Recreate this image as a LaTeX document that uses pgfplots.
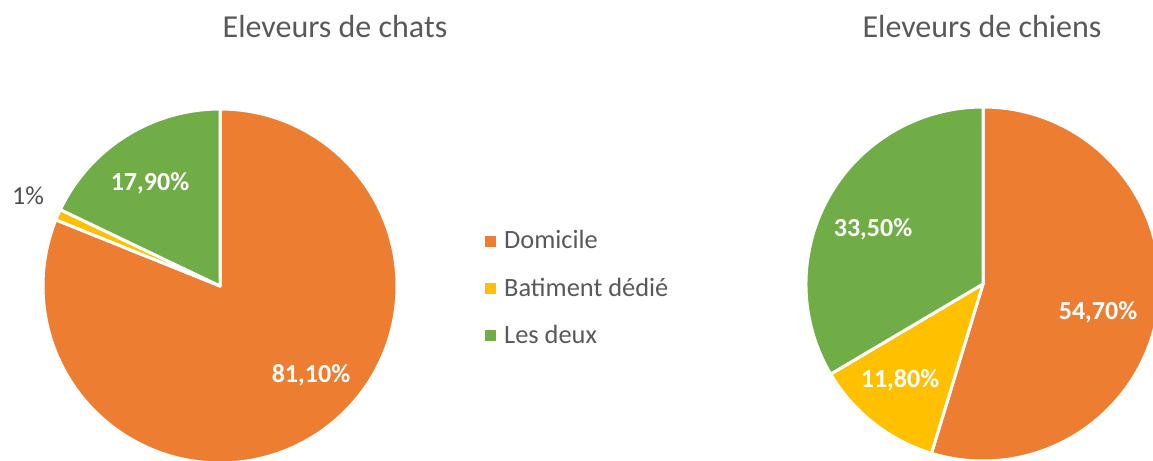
\documentclass[border=0pt]{standalone}
\usepackage{pgfplots}
\usepackage{pgfplotstable}
\usepackage{fontspec}
\setmainfont{Carlito}
\pgfplotsset{compat=1.18}

\definecolor{dom}{HTML}{ED7D31}
\definecolor{bat}{HTML}{FFC000}
\definecolor{deux}{HTML}{70AD47}
\definecolor{txt}{HTML}{595959}

% parts in percent, clockwise from 12 o'clock
\pgfplotstableread{
name value col
Domicile 81.1 dom
Batiment 1.0 bat
Deux 17.9 deux
}\chats
\pgfplotstableread{
name value col
Domicile 54.7 dom
Batiment 11.8 bat
Deux 33.5 deux
}\chiens

% #1 table, #2 #3 centre in axis units, #4 radius
\newcommand\drawpie[4]{%
  \pgfplotstablegetrowsof{#1}\let\nrows\pgfplotsretval
  \def\cum{0}%
  \pgfplotsforeachungrouped \i in {1,...,\nrows}{%
    \pgfmathtruncatemacro\row{\i-1}%
    \pgfplotstablegetelem{\row}{value}\of{#1}\let\sliceval\pgfplotsretval
    \pgfplotstablegetelem{\row}{col}\of{#1}\let\slicecol\pgfplotsretval
    \pgfmathsetmacro\angA{90-3.6*\cum}%
    \pgfmathsetmacro\angB{90-3.6*(\cum+\sliceval)}%
    \pgfmathsetmacro\cum{\cum+\sliceval}%
    \edef\temp{\noexpand\fill[\slicecol, draw=white, line width=1.5pt, line join=round]
      (axis cs:#2,#3) -- ++(\angA:#4) arc[start angle=\angA, end angle=\angB, radius=#4] -- cycle;}%
    \temp
  }%
}

\begin{document}
\begin{tikzpicture}
\begin{axis}[
    name=main,
    scale only axis,
    width=576.5pt, height=230.5pt,
    xmin=0, xmax=1153, ymin=0, ymax=461,
    hide axis,
    clip=true,
    legend image code/.code={\fill[#1] (0pt,-2.5pt) rectangle (5pt,2.5pt);},
    legend style={at={(axis cs:479,239)}, anchor=north west, draw=none, fill=none,
      font=\fontsize{13.2}{15}\selectfont, text=txt, row sep=9pt,
      nodes={inner xsep=4pt}},
    legend cell align=left,
]
\addlegendimage{dom}
\addlegendentry{Domicile}
\addlegendimage{bat}
\addlegendentry{Batiment dédié}
\addlegendimage{deux}
\addlegendentry{Les deux}

\drawpie{\chats}{220}{175}{88.5pt}
\drawpie{\chiens}{983}{177}{88.5pt}

\node[font=\fontsize{16}{18}\selectfont, text=txt] at (axis cs:335,434) {Eleveurs de chats};
\node[font=\fontsize{16}{18}\selectfont, text=txt] at (axis cs:982,434) {Eleveurs de chiens};

\begin{scope}[every node/.style={font=\fontsize{13}{15}\selectfont\bfseries, text=white}]
\node at (axis cs:311,86) {81,10\%};
\node at (axis cs:150,278) {17,90\%};
\node at (axis cs:1098,149) {54,70\%};
\node at (axis cs:900,81) {11,80\%};
\node at (axis cs:873,232) {33,50\%};
\end{scope}
\node[font=\fontsize{13}{15}\selectfont, text=txt!85!black] at (axis cs:28,265) {1\%};
\end{axis}
\pgfresetboundingbox
\useasboundingbox (main.south west) rectangle (main.north east);
\end{tikzpicture}
\end{document}
